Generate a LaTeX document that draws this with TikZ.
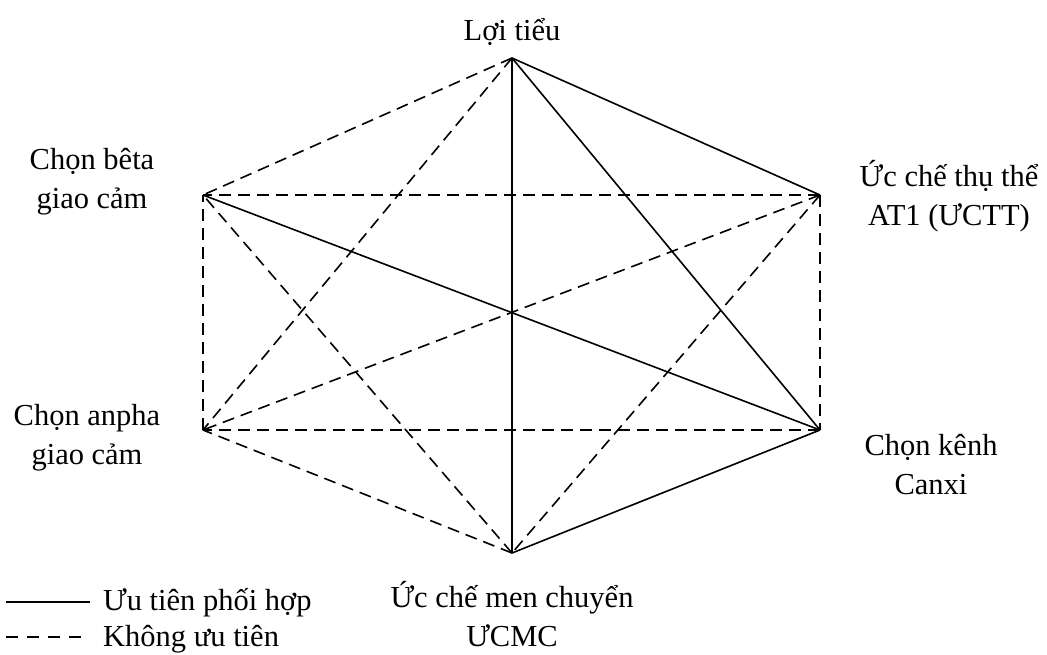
\documentclass[tikz,border=0pt]{standalone}
\usepackage{fontspec}
\setmainfont{Liberation Serif}
\begin{document}
\begin{tikzpicture}[x=1pt,y=-1pt,
  solidline/.style={line width=1.6pt},
  dashline/.style={line width=1.6pt,dash pattern=on 12pt off 7pt},
  lbl/.style={font=\fontsize{30.5}{39}\selectfont,align=center,inner sep=0pt}]
\useasboundingbox (0,0) rectangle (1047,654);
\coordinate (T) at (512,58);
\coordinate (UR) at (820,195);
\coordinate (LR) at (820,430);
\coordinate (B) at (512,553);
\coordinate (LL) at (203,430);
\coordinate (UL) at (203,195);
% solid
\draw[solidline] (T) -- (UR);
\draw[solidline] (T) -- (LR);
\draw[solidline] (T) -- (B);
\draw[solidline] (LR) -- (B);
\draw[solidline] (UL) -- (LR);
% dashed
\draw[dashline] (T) -- (UL);
\draw[dashline] (T) -- (LL);
\draw[dashline] (UR) -- (LR);
\draw[dashline] (UR) -- (B);
\draw[dashline] (UR) -- (LL);
\draw[dashline] (UR) -- (UL);
\draw[dashline] (LR) -- (LL);
\draw[dashline] (B) -- (LL);
\draw[dashline] (B) -- (UL);
\draw[dashline] (LL) -- (UL);
% labels
\node[lbl,anchor=base] (tT) at (512,40) {Lợi tiểu};
\node[lbl] (tUL) at (92,182) {Chọn bêta\\giao cảm};
\node[lbl] (tUR) at (949,196) {Ức chế thụ thể\\AT1 (ƯCTT)};
\node[lbl] (tLL) at (87,438) {Chọn anpha\\giao cảm};
\node[lbl] (tLR) at (931,465) {Chọn kênh\\Canxi};
\node[lbl] (tB) at (512,614) {Ức chế men chuyển\\ƯCMC};
% legend
\coordinate (l1a) at (6,602);
\coordinate (l1b) at (90,602);
\coordinate (l2a) at (6,637);
\coordinate (l2b) at (82,637);
\draw[solidline] (l1a) -- (l1b);
\draw[line width=1.6pt,dash pattern=on 12pt off 9pt] (l2a) -- (l2b);
\node[lbl,anchor=base west] (leg1) at (103,610) {Ưu tiên phối hợp};
\node[lbl,anchor=base west] (leg2) at (103,646) {Không ưu tiên};
\end{tikzpicture}
\end{document}
